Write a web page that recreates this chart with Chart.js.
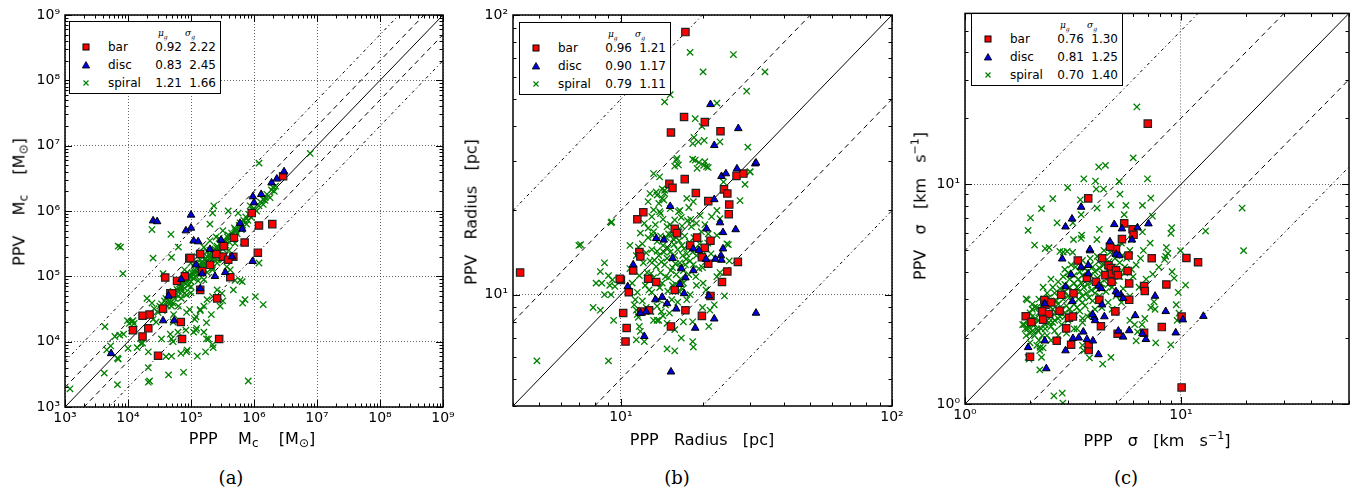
<!DOCTYPE html>
<html>
<head>
<meta charset="utf-8">
<script src="https://cdn.jsdelivr.net/npm/chart.js@4.4.1/dist/chart.umd.min.js"></script>
<style>
body { margin: 0; background: #fff; width: 1359px; height: 491px; position: relative; overflow: hidden; font-family: "DejaVu Sans", sans-serif; }
.panel { position: absolute; top: 0; }
.ttl { position: absolute; white-space: nowrap; font-size: 16px; transform: translate(-50%, -50%); z-index: 5; }
.ttl.rot { transform: translate(-50%, -50%) rotate(-90deg); }
.ttl sub { font-size: 12px; vertical-align: -3px; }
.ttl sup { font-size: 11px; vertical-align: 7px; }
.cap { position: absolute; font-family: "DejaVu Serif", serif; font-size: 18px; transform: translate(-50%, -50%); }
.legend { position: absolute; width: 152px; height: 73px; border: 1px solid #000; background: #fff; z-index: 6; font-size: 12px; box-sizing: border-box; }
.legend span { position: absolute; line-height: 14px; white-space: nowrap; }
.legend .hd { font-family: "DejaVu Serif", serif; font-style: italic; font-size: 9px; top: 4px; }
.legend .hd sub { font-size: 6px; }
.legend svg { display: block; }
</style>
</head>
<body>
<script>
// axis ranges, ticks, reference line factors
const massRange = [1e3, 1e9];
const massTicks = [1e3, 1e4, 1e5, 1e6, 1e7, 1e8, 1e9];
const radRange = [4, 100];
const radTicks = [10, 100];
const sigRange = [1, 60];
const sigTicks = [1, 10];
const refFactors = [1, 2, 0.5, 5, 0.2];
const seriesNames = ['bar', 'disc', 'spiral'];

// legend statistics (mu_g, sigma_g)
const massStats = [['0.92', '2.22'], ['0.83', '2.45'], ['1.21', '1.66']];
const radStats = [['0.96', '1.21'], ['0.90', '1.17'], ['0.79', '1.11']];
const sigStats = [['0.76', '1.30'], ['0.81', '1.25'], ['0.70', '1.40']];

// (a) cloud mass, [PPP, PPV]
const massBar = [[2.9e6,3.4e6],[9.2e5,9.3e5],[1.2e6,6.0e5],[1.95e6,6.3e5],[4.8e5,3.9e5],[7.1e5,3.3e5],[1.15e6,2.3e5],
  [3.2e5,2.0e5],[4.7e5,2.0e5],[4.2e5,9.7e4],[3.9e4,9.6e4],[2.6e5,4.6e4],[1.7e4,2.5e4],[2.2e4,2.6e4],[1.2e4,1.5e4],
  [2.1e4,1.6e4],[1.7e4,1.2e4],[6.9e4,2.0e4],[7.2e4,1.1e4],[2.8e5,1.1e4],[3.0e4,6.1e3],[9.4e4,1.9e5],[1.4e5,2.2e5],
  [3.6e4,3.2e4],[4.7e4,5.5e4],[3.9e5,1.8e5],[1.4e5,6.2e4],[3.3e5,2.9e5],[8.0e4,1.0e5],[1.5e5,1.2e5],[2.0e5,1.5e5],
  [5.0e4,5.5e4],[2.5e5,2.2e5],[6.0e4,8.5e4],[9.8e4,1.9e5]];
const massDisc = [[3.0e6,4.0e6],[2.3e6,3.1e6],[1.9e6,2.7e6],[1.3e6,1.8e6],[9.6e5,1.66e6],[1.0e6,1.34e6],[1.0e5,8.7e5],
  [2.5e4,7.1e5],[2.9e4,6.9e5],[1.0e5,5.5e5],[8.3e4,5.0e5],[1.1e5,3.5e5],[1.3e5,3.4e5],[6.0e5,6.5e5],[6.5e5,5.3e5],
  [9.5e5,1.7e5],[2.4e5,1.0e5],[3.5e5,1.15e5],[1.4e5,6.5e4],[4.4e4,5.0e4],[3.6e4,2.1e4],[5.4e4,2.1e4],[5.4e3,6.6e3],
  [4.5e5,2.0e5],[1.5e5,1.1e5],[2.0e5,2.6e5],[3.0e5,3.6e5],[7.0e4,9.0e4],[1.2e5,1.5e5]];
const massSpiral = [[7.8e6,7.6e6],[1.2e6,5.4e6],[2.3e5,1.2e6],[2.4e4,5.2e5],[7.6e3,2.8e5],[4.8e4,4.4e5],[6.3e4,2.8e5],
  [1.4e6,1.5e6],[1.5e6,1.6e6],[1.9e6,2.1e6],[3.9e5,1.0e6],[8.7e5,1.2e6],[5.6e5,9.3e5],[2.0e5,6.3e5],[7.0e3,2.9e5],
  [8.3e3,1.1e5],[4.9e4,1.95e5],[2.2e5,9.3e5],[2.5e4,1.9e5],[3.6e4,1.1e5],
  [4.3e3,1.7e4],[1.2e3,1.9e3],[4.2e3,3.3e3],[6.8e3,2.2e3],[6.8e3,5.6e3],[1.0e4,7.9e3],[6.2e3,1.2e4],[8.5e3,1.3e4],
  [9.8e3,2.1e4],[1.4e4,8.1e3],[1.7e4,9.5e3],[2.1e4,4.0e3],[2.1e4,2.4e3],[2.2e4,2.5e3],[4.4e4,3.1e3],[4.9e4,6.0e3],
  [7.6e4,3.4e3],[6.9e4,6.6e3],[1.26e5,6.0e3],[8.7e4,7.4e3],[1.7e5,7.0e3],[1.9e5,1.1e4],[2.2e5,9.0e3],[2.25e5,8.1e3],
  [1.6e5,1.4e4],[1.23e5,1.6e4],[1.1e5,1.4e4],[6.2e4,1.4e4],[4.7e4,1.3e4],[5.2e4,1.0e4],[3.4e4,1.1e4],[4.6e3,7.5e3],
  [5.3e3,8.6e3],[7.0e3,5.4e3],[1.14e4,2.0e4],[1.25e4,1.9e4],[1.6e4,9.4e3],[2.1e4,7.0e3],[4.0e4,5.9e3],[4.9e4,1.1e4],
  [5.2e4,2.0e4],[8.5e4,7.0e3],[8.3e4,1.5e4],[1.2e5,1.5e4],[1.76e5,1.1e4],[1.15e5,2.2e4],[1.4e5,3.0e4],[1.76e5,1.95e4],
  [2.1e5,2.6e4],[8.1e5,2.5e3],[1.4e6,3.7e4],[7.2e5,4.4e4],[6.6e5,3.9e4],[3.2e5,4.2e4],[6.5e5,8.3e4],[4.7e5,6.2e4],
  [1.2e6,1.6e5],[2.0e4,4.6e4],[2.4e4,3.9e4],[1.05e4,1.9e4],[7.4e3,1.26e4],[1.2e4,2.1e4],[6.3e4,5.9e4],[7.9e4,5.5e4],
  [1.0e5,6.9e4],[1.4e5,3.1e4],[8.5e4,2.8e4],[4.9e4,3.5e4],[5.3e4,2.6e4],[2.8e4,2.0e4],[2.6e5,6.2e4],[3.1e5,5.5e4],
  [1.8e5,4.4e4],[2.2e5,1.35e5],[4.2e5,1.26e5],[5.0e5,8.7e4],[2.0e5,2.5e5],[2.6e5,1.8e5],[3.7e5,1.4e5],[6.0e5,8.7e4],
  [1.05e6,4.9e4],[2.2e5,4.9e4],[2.9e5,3.5e4],[1.6e5,3.5e4],[1.2e5,2.4e4],[9.5e4,3.1e4],[6.8e4,6.2e4],[5.2e4,3.9e4],
  [2.2e4,2.5e4],[2.5e4,2.2e4],[2.6e4,3.2e4],[3.0e4,2.8e4],[3.2e4,3.5e4],[3.5e4,3.0e4],[3.8e4,4.2e4],[4.2e4,3.5e4],
  [4.5e4,5.0e4],[4.8e4,4.0e4],[5.0e4,5.6e4],[5.5e4,4.6e4],[6.0e4,6.3e4],[6.3e4,5.0e4],[6.8e4,7.1e4],[7.2e4,6.0e4],
  [7.6e4,8.3e4],[7.9e4,6.6e4],[8.5e4,8.9e4],[8.9e4,7.2e4],[9.3e4,1.05e5],[1.0e5,8.3e4],[1.05e5,1.12e5],[1.1e5,9.3e4],
  [1.15e5,1.26e5],[1.2e5,1.0e5],[1.26e5,1.38e5],[1.32e5,1.1e5],[1.38e5,1.5e5],[1.45e5,1.2e5],[1.5e5,1.66e5],[1.6e5,1.3e5],
  [1.66e5,1.8e5],[1.74e5,1.5e5],[1.8e5,2.0e5],[1.9e5,1.6e5],[2.0e5,2.2e5],[2.1e5,1.8e5],[2.2e5,2.4e5],[2.3e5,1.9e5],
  [2.4e5,2.6e5],[2.5e5,2.1e5],[2.6e5,2.9e5],[2.8e5,2.4e5],[3.0e5,3.2e5],[3.2e5,2.6e5],[3.4e5,3.5e5],[3.6e5,3.0e5],
  [3.8e5,4.0e5],[4.1e5,3.3e5],[4.4e5,4.6e5],[4.7e5,3.8e5],[5.0e5,5.2e5],[5.4e5,4.5e5],[5.8e5,6.0e5],[6.3e5,5.2e5],
  [6.9e5,7.2e5],[7.6e5,6.3e5],[8.3e5,8.9e5],[9.1e5,7.9e5],[1.0e6,1.1e6],[1.1e6,1.0e6],[1.26e6,1.38e6],[1.4e6,1.26e6],
  [1.6e6,1.8e6],[1.8e6,1.6e6],[2.0e6,2.3e6],[2.2e6,2.4e6],[2.1e6,2.0e6],[1.0e5,1.6e5],[1.26e5,2.0e5],[1.6e5,2.8e5],
  [2.0e5,3.5e5],[7.9e4,1.26e5],[2.5e5,4.0e5],[3.2e5,5.0e5],[1.6e5,8.9e4],[2.2e5,1.26e5],[3.2e5,1.8e5],[1.0e5,5.6e4],
  [6.3e4,3.5e4],[4.0e5,2.5e5],[5.0e5,3.2e5],
  [3.4e4,3.8e4],[4.0e4,4.6e4],[4.4e4,4.1e4],[5.2e4,5.9e4],[5.8e4,5.3e4],[6.6e4,7.6e4],[7.0e4,6.6e4],[8.1e4,9.1e4],
  [8.7e4,8.1e4],[9.6e4,1.0e5],[1.02e5,9.8e4],[1.12e5,1.2e5],[1.18e5,1.12e5],[1.3e5,1.45e5],[1.35e5,1.26e5],
  [1.48e5,1.58e5],[1.55e5,1.45e5],[1.7e5,1.9e5],[1.78e5,1.66e5],[1.95e5,2.1e5],[2.05e5,1.95e5],[2.25e5,2.5e5],
  [2.35e5,2.2e5],[2.55e5,2.75e5],[2.7e5,2.55e5],[2.9e5,3.1e5],[3.1e5,2.9e5],[3.3e5,3.6e5],[3.5e5,3.3e5],[3.9e5,4.3e5],
  [4.3e5,4.0e5],[4.9e5,5.5e5],[5.2e5,4.9e5],[6.0e5,6.6e5],[6.6e5,6.1e5],[7.4e5,8.1e5],[8.0e5,7.2e5],[9.5e5,1.05e6],
  [1.2e6,1.2e6],[1.5e6,1.45e6],[1.15e5,1.6e5],[1.4e5,1.8e5],[1.8e5,2.4e5],[8.7e4,1.15e5],[2.8e5,3.8e5],[1.3e5,8.5e4],
  [1.8e5,1.15e5],[2.6e5,1.6e5],[8.5e4,5.2e4],[3.5e5,2.1e5],[7.0e4,4.6e4]];

// (b) cloud radius [pc], [PPP, PPV]
const radBar = [[17.2,25.9],[15.1,24.9],[15.5,24.1],[12.1,19.7],[11.5,18.6],[18.9,23.1],[21.0,21.6],[24.0,23.8],
  [24.7,23.0],[25.0,19.4],[25.1,21.0],[26.7,26.6],[28.3,27.1],[15.8,17.2],[16.1,16.6],[19.1,16.0],[18.0,15.0],
  [21.4,15.6],[20.4,14.7],[19.9,13.6],[21.0,12.9],[24.7,12.1],[27.0,13.1],[23.6,11.1],[21.4,9.9],[11.7,14.2],
  [11.8,13.7],[11.1,12.2],[10.0,11.3],[10.7,10.2],[12.6,11.4],[10.2,8.6],[10.5,7.6],[10.4,6.8],[11.9,8.7],[12.7,8.8],
  [15.3,7.7],[17.3,8.8],[19.9,8.4],[13.5,11.1],[15.8,10.4],[17.3,86.9],[17.1,43.2],[20.4,41.4],[23.3,38.4],
  [15.3,38.0],[4.25,12.0],[9.9,11.4]];
const radDisc = [[26.8,28.2],[31.3,29.4],[23.5,26.5],[24.4,27.1],[22.1,21.9],[15.2,20.7],[20.7,17.2],[23.2,18.1],
  [23.8,16.7],[26.5,17.1],[13.5,15.9],[14.4,15.7],[18.5,14.6],[19.4,14.4],[23.8,14.6],[23.4,13.8],[23.5,13.3],
  [20.6,13.4],[22.3,13.4],[15.5,13.5],[16.7,12.4],[17.3,11.5],[18.5,12.2],[17.1,10.1],[14.2,9.8],[13.4,9.6],
  [14.8,9.3],[16.0,8.9],[12.4,8.7],[11.8,8.6],[11.1,12.8],[10.6,10.7],[12.2,7.1],[18.8,7.6],[22.1,8.2],[31.5,8.6],
  [15.3,5.3],[21.4,47.9],[27.1,39.3],[22.1,34.2],[31.5,29.6],[21.1,9.9],[16.5,10.9]];
const radSpiral = [[18.0,73.5],[26.0,72.2],[34.0,62.6],[20.1,62.6],[29.1,53.4],[15.2,51.9],[14.5,48.9],[22.6,48.4],
  [18.8,42.6],[19.9,40.0],[18.6,36.5],[18.4,34.7],[19.3,35.2],[20.3,35.6],[23.2,35.2],[29.4,33.7],[16.0,30.3],
  [15.8,28.8],[18.4,30.5],[19.4,29.7],[20.2,29.0],[21.0,28.5],[29.9,27.5],[28.7,24.8],[27.5,21.7],[13.2,27.1],
  [13.9,26.4],[12.8,23.0],[13.5,23.3],[14.2,22.1],[13.8,21.2],[13.2,20.1],[9.25,18.2],[7.0,15.0],[10.8,15.0],
  [16.1,30.7],[16.3,29.1],[18.8,30.3],[19.1,28.3],[20.4,29.9],[20.7,28.7],[23.9,25.3],[30.0,27.5],[13.9,19.8],
  [13.6,22.7],[14.5,23.6],[12.6,17.3],[13.2,16.8],[13.6,15.5],[11.6,14.8],[15.2,20.3],[16.3,19.8],[17.5,22.1],
  [18.5,21.5],[19.6,19.2],[21.6,19.0],[22.6,20.0],[23.2,18.7],[22.6,16.3],[24.6,15.2],[14.2,23.9],[14.5,23.0],
  [14.4,21.8],[12.6,21.5],
  [8.7,13.0],[8.4,12.1],[9.0,11.7],[9.3,11.3],[8.1,11.0],[8.5,11.0],[9.1,10.8],[9.5,10.7],[8.7,10.0],[9.2,10.0],
  [7.9,9.0],[8.4,8.8],[9.4,8.1],[4.9,5.8],[9.0,5.8],[7.1,15.1],[9.2,18.1],
  [11.4,6.9],[12.2,6.8],[11.6,8.3],[11.7,7.7],[11.8,7.4],[13.2,8.1],[13.6,8.1],[13.8,8.1],[14.8,6.4],[15.8,6.3],
  [16.7,7.0],[18.4,6.8],[18.5,6.5],[21.1,7.7],[21.3,8.8],[22.1,9.2],[24.1,9.9],[20.0,9.0],[18.4,8.0],[15.8,7.5],
  [14.8,7.9],[14.3,8.4],[17.0,8.0],[20.6,10.4],[20.1,11.0],[25.1,13.2],[23.2,12.0],[22.6,11.6],[24.9,15.1],
  [11.3,9.6],[11.4,8.8],[11.5,8.5],
  [14.0,12.0],[14.5,12.8],[15.0,11.5],[15.5,12.5],[16.0,11.8],[16.5,13.0],[17.0,12.2],[14.8,13.5],[15.2,14.2],
  [16.2,14.5],[16.8,15.0],[15.6,15.8],[17.5,14.0],[18.0,13.2],[17.2,16.2],[16.4,16.8],[15.0,16.5],[14.3,15.0],
  [13.8,13.8],[13.5,12.6],[13.2,11.5],[14.2,11.0],[15.5,10.8],[16.3,10.3],[17.0,11.0],[17.8,11.8],[18.5,12.8],
  [19.0,13.8],[19.5,15.2],[18.6,16.0],[18.2,17.5],[17.6,18.4],[16.8,17.6],[15.8,18.5],[14.8,17.5],[14.0,16.2],
  [13.0,14.5],[12.8,13.2],[12.5,12.0],[12.3,10.8],[13.0,10.2],[13.8,9.6],[14.6,9.2],[15.4,9.6],[16.2,9.4],
  [12.0,9.5],[12.4,9.0],[12.9,8.7],[11.5,10.2],[11.2,9.2],[11.0,11.0],[10.8,12.4],[11.4,13.8],[12.0,15.2],
  [12.6,16.0],[17.4,13.4],[16.6,12.6],[15.8,13.8],[14.4,14.2],[16.0,16.0],[18.8,14.6],[19.8,16.8],[20.4,17.8],
  [21.0,16.5],[20.0,12.5],[21.5,14.0],[19.0,10.8],[18.0,10.0],[13.4,17.8],[13.0,19.0],[12.2,18.0],[11.8,16.6],
  [14.0,19.5],[16.5,20.0],[17.8,20.5],[19.0,18.0],
  [14.6,11.6],[15.3,12.2],[15.9,12.9],[16.6,11.4],[17.3,12.8],[14.1,13.1],[14.9,14.7],[15.7,15.1],[16.4,15.6],
  [17.1,14.6],[17.9,15.4],[18.4,14.2],[16.9,13.8],[15.4,16.4],[14.7,16.0],[13.6,14.3],[13.3,13.3],[12.9,11.9],
  [13.9,10.6],[14.9,10.3],[15.9,10.9],[16.9,10.5],[17.5,9.6],[18.9,11.6],[19.4,12.4],[20.5,13.1],[19.9,14.5],
  [20.9,15.3],[18.1,18.6],[16.7,18.9],[15.2,17.8],[14.3,18.6],[13.1,16.3],[12.4,14.1],[12.1,13.0],[11.7,11.7],
  [12.7,10.4],[13.6,9.1],[14.1,8.7],[15.1,8.6]];

// (c) velocity dispersion [km/s], [PPP, PPV]
const sigBar = [[1.91,2.51],[2.03,2.36],[2.0,1.64],[2.33,2.97],[2.36,2.83],[2.51,2.9],[2.28,2.64],[2.45,2.57],
  [2.3,2.42],[2.66,1.94],[2.79,3.14],[3.18,3.19],[2.74,2.66],[2.94,2.21],[3.1,1.86],[3.03,2.47],[3.16,2.5],
  [3.33,4.5],[3.74,1.76],[3.74,1.87],[3.67,3.75],[4.04,3.6],[4.19,2.98],[4.31,4.61],[4.62,4.28],[4.47,3.86],
  [4.74,4.16],[4.79,3.92],[4.77,3.6],[5.0,4.06],[5.1,3.86],[5.0,5.07],[4.97,2.64],[5.09,2.09],[5.72,4.74],
  [5.66,4.03],[5.76,3.54],[5.76,2.98],[6.75,3.44],[6.8,3.27],[6.75,2.11],[7.32,4.61],[8.56,3.5],[8.15,2.24],
  [10.07,2.5],[10.07,1.19],[10.6,4.62],[12.0,4.42],[4.26,2.26],[7.02,18.9],[3.72,8.63],[5.46,6.64],[5.97,6.24],
  [6.03,5.89],[5.33,5.63],[4.69,5.2]];
const sigDisc = [[3.45,7.88],[3.13,6.96],[2.92,6.41],[4.91,6.57],[5.33,6.28],[6.29,6.35],[7.07,6.62],[5.93,5.59],
  [4.69,5.48],[3.79,4.99],[1.96,1.81],[2.38,1.45],[2.82,4.58],[2.34,2.86],[2.34,1.94],[2.92,3.42],[3.14,2.93],
  [3.1,3.88],[3.45,4.2],[3.72,4.28],[3.72,3.92],[2.92,1.75],[3.16,1.99],[3.36,2.0],[3.53,2.13],[3.67,1.97],
  [3.91,1.94],[4.15,1.68],[3.97,2.48],[4.0,2.4],[3.9,2.55],[5.27,3.14],[5.4,3.03],[4.31,2.83],[4.42,2.5],
  [5.13,2.15],[5.4,2.02],[5.76,2.16],[6.14,2.53],[6.63,2.09],[6.88,1.97],[7.59,3.1],[8.5,2.64],[9.46,2.11],
  [10.2,2.42],[12.7,2.51],[4.16,3.45],[4.27,3.36],[5.0,3.25],[5.1,3.16],[5.0,4.81],[5.18,4.74],[3.79,5.05]];
const sigSpiral = [[6.25,22.5],[6.01,13.2],[4.16,12.0],[4.47,12.2],[3.55,10.6],[5.18,10.3],[7.0,10.6],[2.99,9.66],
  [4.02,10.35],[4.05,9.52],[4.38,9.52],[5.22,9.02],[7.25,8.65],[2.55,8.6],[2.26,7.75],[3.42,8.5],[4.09,7.8],
  [4.74,8.07],[5.56,8.02],[6.63,8.02],[2.01,7.04],[3.45,7.28],[5.46,7.28],[1.96,6.17],[2.67,6.68],[3.16,6.68],
  [7.38,7.16],[9.06,6.35],[8.98,5.98],[13.0,6.13],[19.2,7.8],[2.1,5.29],[2.35,5.1],[2.45,5.15],[3.18,5.6],
  [3.45,5.67],[3.47,5.87],[4.08,5.6],[4.19,6.24],[6.63,6.07],[8.56,5.16],[9.95,4.99],[19.5,4.99],[2.75,4.95],
  [2.85,4.92],[2.97,4.95],[3.15,4.9],
  [10.5,3.48],[9.72,3.22],[9.51,2.83],[9.8,2.59],[9.6,2.4],[7.64,1.9],[8.97,1.86],[9.1,4.0],[9.3,3.74],[8.5,4.7],
  [8.4,4.55],[8.7,4.85],[7.59,2.7],[7.25,2.75],[7.5,2.92],[6.8,2.45],[6.6,2.3],[6.2,1.94],[6.3,2.13],[5.8,2.4],
  [6.1,2.3],[4.34,1.52],[4.74,1.63],[3.77,1.62],[3.5,1.85],[3.55,1.75],[2.58,1.09],[2.82,1.12],[2.84,1.01],
  [2.22,1.43],[1.96,1.63],[1.98,1.6],[2.26,1.63],[2.22,1.75],[2.23,1.81],[1.94,2.98],[2.05,2.7],[2.1,2.76],
  [2.0,2.4],[2.08,2.32],[2.15,2.2],[1.85,2.3],[1.95,2.2],[2.05,2.15],
  [2.1,2.3],[2.2,2.4],[2.25,2.2],[2.3,2.5],[2.35,2.3],[2.4,2.6],[2.45,2.35],[2.5,2.5],[2.55,2.7],[2.6,2.4],
  [2.65,2.6],[2.7,2.85],[2.75,2.5],[2.8,2.7],[2.85,3.0],[2.9,2.6],[2.95,2.8],[3.0,3.1],[3.05,2.7],[3.1,2.95],
  [3.15,3.25],[3.2,2.85],[3.25,3.1],[3.3,3.4],[3.35,3.0],[3.4,3.25],[3.45,3.55],[3.5,3.1],[3.55,3.4],[3.6,3.7],
  [3.65,3.2],[3.7,3.5],[3.8,3.85],[3.85,3.3],[3.9,3.6],[4.0,4.0],[4.05,3.4],[4.1,3.75],[4.2,4.15],[4.25,3.55],
  [4.3,3.9],[4.4,4.3],[4.5,3.7],[4.55,4.05],[4.65,4.45],[4.75,3.85],[4.85,4.2],[4.95,4.6],[5.1,4.0],[5.2,4.4],
  [5.35,4.75],[5.5,4.2],[5.6,4.6],[5.8,5.0],[2.0,2.6],[2.15,2.75],[2.3,2.9],[2.45,3.05],[2.6,3.2],[2.75,3.35],
  [2.9,3.5],[3.05,3.7],[3.2,3.85],[3.4,4.0],[3.6,4.15],[3.8,4.3],[2.2,1.95],[2.4,2.05],[2.6,2.15],[2.8,2.3],
  [3.0,2.4],[3.2,2.55],[3.4,2.65],[3.6,2.8],[3.9,2.95],[4.2,3.1],[4.5,3.25],[4.8,3.4],[1.9,2.2],[1.95,2.4],
  [2.05,2.5],[1.92,2.05],[2.1,2.05],[2.5,2.25],[2.65,2.95],[3.3,2.2],[3.5,2.35],[3.7,2.5],[4.0,2.7],[4.6,2.9],
  [5.0,3.1],[5.4,3.35],[5.7,3.6],[6.0,3.8],[6.2,4.3],[6.5,4.6],[3.1,4.3],[2.9,4.1],[2.5,3.7],[2.3,3.4],[4.4,5.0],
  [4.1,4.7],[1.88,2.3],[1.98,2.25],[2.0,2.1],[2.12,2.45],[2.18,2.15],[2.28,2.05],[2.35,2.55],[1.92,3.01],
  [2.3,2.7],[2.45,2.8],[2.6,2.95],[2.75,3.1],[2.9,3.25],[3.05,3.4],[3.2,3.55],[3.35,3.7],[3.5,3.85],[3.7,4.0],
  [3.9,4.2],[4.15,4.45],[4.4,4.65],[4.7,4.9],[5.0,5.2],[5.3,5.4],[2.2,2.6],[2.35,2.2],[2.55,2.35],[2.7,2.45],
  [2.9,2.5],[3.1,2.6],[3.3,2.75],[3.5,2.9],[3.75,3.05],[4.0,3.2],[4.3,3.35],[4.6,3.5],[4.9,3.65],[5.2,3.8],
  [5.5,3.95],[5.9,4.1],[2.05,2.85],[2.2,3.0],[2.4,3.2],[2.55,3.4],[2.7,3.6],[2.85,3.8],[3.0,3.95],[3.25,4.2],
  [3.5,4.5],[3.8,4.6],[2.0,1.9],[2.15,1.85],[2.3,1.8],[2.5,1.95],[2.7,2.05],[2.95,2.1],[3.2,2.2],[3.5,2.45],
  [3.8,2.6],[4.3,2.75],[4.8,2.7],[5.3,2.9],[5.8,3.1],[6.4,3.4],[6.9,3.7],[7.4,3.9],[7.9,4.2],[6.7,5.0],[7.2,5.4],
  [5.9,5.6]];

//////////////////////////////////
// Panel layout (plot box in page pixels)
//////////////////////////////////
const YW = 60, XH = 32, PR = 20;
const panels = [
  { box: [65, 15, 443, 407], range: massRange, ticks: massTicks, pts: [massBar, massDisc, massSpiral], stats: massStats,
    legend: [69, 21], cap: ['(a)', 231, 477],
    xTitle: ['PPP&nbsp;&nbsp;&nbsp; M<sub>c</sub>&nbsp;&nbsp;&nbsp; [M<sub>⊙</sub>]', 252, 439],
    yTitle: ['PPV&nbsp;&nbsp;&nbsp; M<sub>c</sub>&nbsp;&nbsp;&nbsp; [M<sub>⊙</sub>]', 20, 202] },
  { box: [513, 15, 892, 406], range: radRange, ticks: radTicks, pts: [radBar, radDisc, radSpiral], stats: radStats,
    legend: [519, 22], cap: ['(b)', 677, 477],
    xTitle: ['PPP&nbsp;&nbsp; Radius&nbsp;&nbsp; [pc]', 702, 439],
    yTitle: ['PPV&nbsp;&nbsp; Radius&nbsp;&nbsp; [pc]', 471, 212] },
  { box: [965, 7, 1349, 404], range: sigRange, ticks: sigTicks, pts: [sigBar, sigDisc, sigSpiral], stats: sigStats,
    legend: [971, 13], cap: ['(c)', 1126, 477],
    xTitle: ['PPP&nbsp;&nbsp; σ&nbsp;&nbsp; [km&nbsp;&nbsp; s<sup>−1</sup>]', 1157, 439],
    yTitle: ['PPV&nbsp;&nbsp; σ&nbsp;&nbsp; [km&nbsp;&nbsp; s<sup>−1</sup>]', 919, 206] }
];

const SUP = '⁰¹²³⁴⁵⁶⁷⁸⁹';
function tickLabel(v) {
  const e = Math.round(Math.log10(v));
  return '10' + String(e).split('').map(c => SUP[+c]).join('');
}

// draws full frame plus inward major/minor ticks on all four sides
const frame = {
  id: 'frame',
  afterDraw(chart) {
    const { ctx, chartArea: a, scales } = chart;
    ctx.save();
    ctx.strokeStyle = '#000';
    ctx.lineWidth = 1;
    ['x', 'y'].forEach(k => {
      const s = scales[k];
      const lo = Math.floor(Math.log10(s.min)), hi = Math.ceil(Math.log10(s.max));
      for (let d = lo; d <= hi; d++) {
        for (let m = 1; m < 10; m++) {
          const v = m * Math.pow(10, d);
          if (v < s.min * 0.999 || v > s.max * 1.001) continue;
          const len = m === 1 ? 7 : 3.5;
          const p = Math.round(s.getPixelForValue(v)) + 0.5;
          ctx.beginPath();
          if (k === 'x') {
            ctx.moveTo(p, a.bottom); ctx.lineTo(p, a.bottom - len);
            ctx.moveTo(p, a.top); ctx.lineTo(p, a.top + len);
          } else {
            ctx.moveTo(a.left, p); ctx.lineTo(a.left + len, p);
            ctx.moveTo(a.right, p); ctx.lineTo(a.right - len, p);
          }
          ctx.stroke();
        }
      }
    });
    ctx.lineWidth = 1.5;
    ctx.strokeRect(a.left, a.top, a.right - a.left, a.bottom - a.top);
    ctx.restore();
  }
};

const markerSvg = [
  '<svg width="10" height="10"><rect x="2" y="2" width="6" height="6" fill="#ff0000" stroke="#000" stroke-width="1"/></svg>',
  '<svg width="10" height="10"><polygon points="5,1.5 8.7,8 1.3,8" fill="#0000dd" stroke="#000" stroke-width="0.8"/></svg>',
  '<svg width="10" height="10"><path d="M2.5,2.5L7.5,7.5M7.5,2.5L2.5,7.5" stroke="#008000" stroke-width="1.2"/></svg>'
];

function addText(cls, html, x, y) {
  const el = document.createElement('div');
  el.className = cls;
  el.innerHTML = html;
  el.style.left = x + 'px';
  el.style.top = y + 'px';
  document.body.appendChild(el);
}

function buildLegend(p) {
  const box = document.createElement('div');
  box.className = 'legend';
  box.style.left = p.legend[0] + 'px';
  box.style.top = p.legend[1] + 'px';
  let html = '<span class="hd" style="left:88px">μ<sub>g</sub></span><span class="hd" style="left:115px">σ<sub>g</sub></span>';
  seriesNames.forEach((name, i) => {
    const top = 18 + i * 18;
    html += `<span style="left:11px;top:${top + 2}px">${markerSvg[i]}</span>` +
            `<span style="left:38px;top:${top}px">${name}</span>` +
            `<span style="right:38px;top:${top}px">${p.stats[i][0]}</span>` +
            `<span style="right:4px;top:${top}px">${p.stats[i][1]}</span>`;
  });
  box.innerHTML = html;
  document.body.appendChild(box);
}

function buildPanel(p) {
  const [l, t, r, b] = p.box;
  const div = document.createElement('div');
  div.className = 'panel';
  const w = (r - l) + YW + PR, h = b + XH;
  div.style.left = (l - YW) + 'px';
  div.style.width = w + 'px';
  div.style.height = h + 'px';
  const canvas = document.createElement('canvas');
  canvas.width = w; canvas.height = h;
  canvas.style.width = w + 'px'; canvas.style.height = h + 'px';
  div.appendChild(canvas);
  document.body.appendChild(div);

  const [lo, hi] = p.range;
  const lines = refFactors.map((k, i) => ({
    data: [{ x: lo, y: lo * k }, { x: hi, y: hi * k }],
    showLine: true, pointRadius: 0, borderColor: '#000', borderWidth: 1,
    borderDash: i === 0 ? [] : (i < 3 ? [5, 4] : [3, 3, 1, 3]),
    order: 10
  }));
  const toXY = arr => arr.map(q => ({ x: q[0], y: q[1] }));
  const datasets = [
    { label: 'disc', data: toXY(p.pts[1]), pointStyle: 'triangle', pointRadius: 4.4,
      backgroundColor: '#0000dd', borderColor: '#000', borderWidth: 1, order: 1 },
    { label: 'bar', data: toXY(p.pts[0]), pointStyle: 'rect', pointRadius: 5.2,
      backgroundColor: '#ff0000', borderColor: '#222', borderWidth: 1.2, order: 2 },
    { label: 'spiral', data: toXY(p.pts[2]), pointStyle: 'crossRot', pointRadius: 4.5,
      borderColor: '#008000', backgroundColor: '#008000', borderWidth: 1.3, order: 3 }
  ].concat(lines);

  const axis = (isX) => ({
    type: 'logarithmic', min: lo, max: hi,
    afterBuildTicks: s => { s.ticks = p.ticks.map(v => ({ value: v })); },
    afterFit: s => { if (isX) s.height = XH; else s.width = YW; },
    ticks: { callback: tickLabel, autoSkip: false, maxRotation: 0, padding: isX ? 3 : 5, color: '#000',
             font: { family: 'DejaVu Sans', size: 14 } },
    grid: { color: 'rgba(0,0,0,0.6)', lineWidth: 1, drawTicks: false },
    border: { display: false, dash: [1, 2] }
  });

  new Chart(canvas, {
    type: 'scatter',
    data: { datasets },
    options: {
      responsive: false, animation: false, events: [],
      layout: { padding: { left: 0, top: t, right: PR, bottom: 0 } },
      plugins: { legend: { display: false }, tooltip: { enabled: false } },
      scales: { x: axis(true), y: axis(false) }
    },
    plugins: [frame]
  });

  buildLegend(p);
  addText('ttl', p.xTitle[0], p.xTitle[1], p.xTitle[2]);
  addText('ttl rot', p.yTitle[0], p.yTitle[1], p.yTitle[2]);
  addText('cap', p.cap[0], p.cap[1], p.cap[2]);
}

panels.forEach(buildPanel);
</script>
</body>
</html>
